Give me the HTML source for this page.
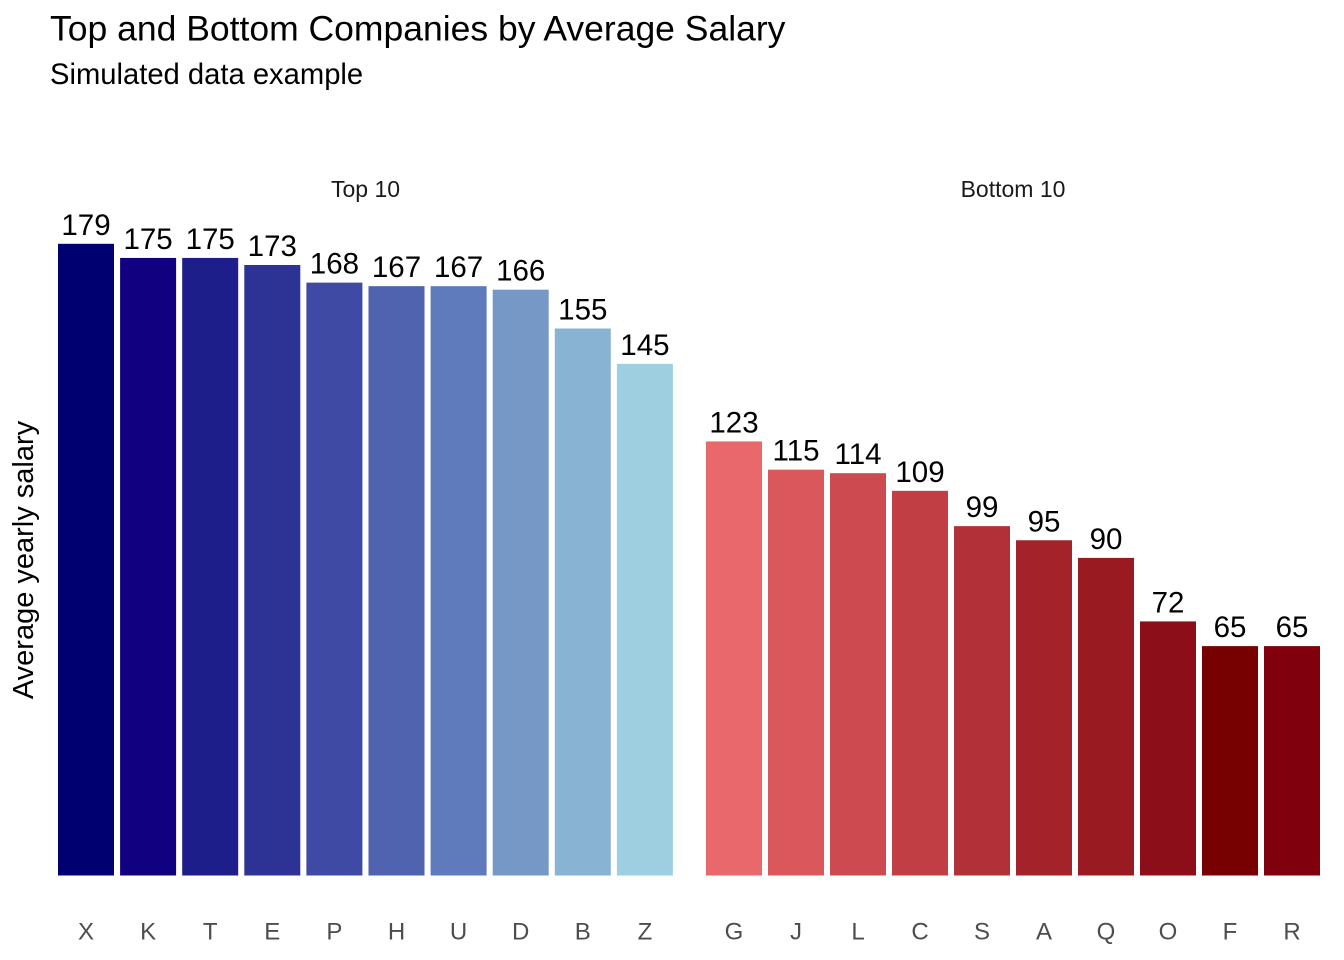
<!DOCTYPE html>
<html>
<head>
<meta charset="utf-8">
<style>
html,body{margin:0;padding:0;background:#fff;}
svg{display:block;}
text{font-family:"Liberation Sans",Arial,sans-serif;}
</style>
</head>
<body>
<svg width="1344" height="960" viewBox="0 0 1344 960" xmlns="http://www.w3.org/2000/svg">
<rect width="1344" height="960" fill="#fff"/>
<text x="50" y="40.5" font-size="35.5" fill="#000">Top and Bottom Companies by Average Salary</text>
<text x="50" y="84" font-size="29.2" fill="#000">Simulated data example</text>
<text transform="translate(33,560) rotate(-90)" text-anchor="middle" font-size="29" fill="#000">Average yearly salary</text>
<text x="365.5" y="197" text-anchor="middle" font-size="23" fill="#1a1a1a">Top 10</text>
<text x="1013" y="197" text-anchor="middle" font-size="23" fill="#1a1a1a">Bottom 10</text>
<g id="bars"></g>
<g id="lbl" font-size="29.5" fill="#000" text-anchor="middle"></g>
<g id="ax" font-size="24" fill="#4d4d4d" text-anchor="middle"></g>
</svg>
<script>
(function(){
var ns="http://www.w3.org/2000/svg";
var left=[["X",179,"#000070"],["K",175,"#110080"],["T",175,"#1e1e8a"],["E",173,"#2c3394"],["P",168,"#3e4aa3"],["H",167,"#4f63af"],["U",167,"#5f7bbc"],["D",166,"#7598c7"],["B",155,"#88b3d2"],["Z",145,"#9ecfe0"]];
var right=[["G",123,"#e8686c"],["J",115,"#da575b"],["L",114,"#cd4b50"],["C",109,"#c03e44"],["S",99,"#b23038"],["A",95,"#a4232a"],["Q",90,"#991a20"],["O",72,"#8c0e19"],["F",65,"#770000"],["R",65,"#80000e"]];
var bars=document.getElementById("bars"),lbl=document.getElementById("lbl"),ax=document.getElementById("ax");
var base=875.5,sc=3.529;
function draw(arr,x0,step){
 for(var i=0;i<arr.length;i++){
  var d=arr[i],x=x0+step*i,h=d[1]*sc,top=base-h;
  var r=document.createElementNS(ns,"rect");
  r.setAttribute("x",x.toFixed(2));r.setAttribute("y",top.toFixed(2));
  r.setAttribute("width","56");r.setAttribute("height",h.toFixed(2));
  r.setAttribute("fill",d[2]);bars.appendChild(r);
  var t=document.createElementNS(ns,"text");
  t.setAttribute("x",(x+28).toFixed(2));t.setAttribute("y",(top-9).toFixed(2));
  t.textContent=String(d[1]);lbl.appendChild(t);
  var a=document.createElementNS(ns,"text");
  a.setAttribute("x",(x+28).toFixed(2));a.setAttribute("y","939.5");
  a.textContent=d[0];ax.appendChild(a);
 }
}
draw(left,58,62.1);
draw(right,706,62);
})();
</script>
</body>
</html>
